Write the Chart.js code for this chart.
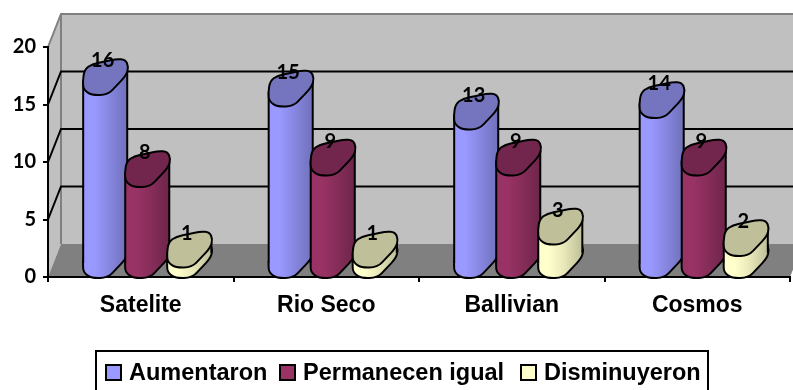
<!DOCTYPE html>
<html lang="es">
<head>
    <meta charset="UTF-8">
    <title>Satelite, Rio Seco, Ballivian, Cosmos</title>
    <style>
        html, body { margin: 0; padding: 0; background: #fff; overflow: hidden; }
        canvas { display: block; }
    </style>
</head>
<body>
    <canvas id="chart" width="793" height="390"></canvas>

    <script src="https://cdn.jsdelivr.net/npm/chart.js"></script>
    <script>
        const categories = ['Satelite', 'Rio Seco', 'Ballivian', 'Cosmos'];
        const aumentaron = [16, 15, 13, 14];
        const permanecen = [8, 9, 9, 9];
        const disminuyeron = [1, 1, 3, 2];
        const seriesNames = ['Aumentaron', 'Permanecen igual', 'Disminuyeron'];
        const yTicks = [0, 5, 10, 15, 20];

        // body gradient stops and lid colour per series
        const seriesColors = [
            { fill: '#9999ff', mid: '#8686e0', dark: '#7070ba', lid: '#7575bf' },
            { fill: '#993366', mid: '#862d59', dark: '#6e254a', lid: '#73264d' },
            { fill: '#ffffcc', mid: '#e6e6b8', dark: '#bfbf99', lid: '#bfbf99' }
        ];

        // depth of the fake 3D box
        const DEPTH_X = 13;
        const DEPTH_Y = 33;
        const LID_H = 34;

        // legend marker positions along the bottom strip
        const legendX = [106, 280, 521];

        // cylinder cross section, unit square, drawn tilted
        const lidOutline = [
            [-.01, .62], [.03, .28], [.2, .12], [.5, .04], [.75, -.03], [.96, -.01], [1.03, .2],
            [.98, .45], [.76, .75], [.56, 1.02], [.2, 1.04], [.01, .88]
        ];

        function tracePath(ctx, left, top, w) {
            const pts = lidOutline.map(p => [left + p[0] * w, top + p[1] * LID_H]);
            const n = pts.length;
            ctx.beginPath();
            ctx.moveTo((pts[n - 1][0] + pts[0][0]) / 2, (pts[n - 1][1] + pts[0][1]) / 2);
            for (let i = 0; i < n; i++) {
                const next = pts[(i + 1) % n];
                ctx.quadraticCurveTo(pts[i][0], pts[i][1], (pts[i][0] + next[0]) / 2, (pts[i][1] + next[1]) / 2);
            }
            ctx.closePath();
        }

        function drawCylinder(ctx, bar, colors) {
            const w = bar.width + 2;
            const left = bar.x + 6.5 - w / 2;
            const topY = bar.y + 1 - LID_H;
            const baseY = bar.base + 1 - LID_H;

            const grad = ctx.createLinearGradient(left, 0, left + w, 0);
            grad.addColorStop(0, colors.fill);
            grad.addColorStop(.25, colors.fill);
            grad.addColorStop(.6, colors.mid);
            grad.addColorStop(1, colors.dark);

            ctx.lineWidth = 2;
            ctx.lineJoin = 'round';
            ctx.strokeStyle = '#000';

            tracePath(ctx, left, baseY, w);
            ctx.fillStyle = grad;
            ctx.fill();
            ctx.stroke();

            ctx.beginPath();
            ctx.moveTo(left, topY + .6 * LID_H);
            ctx.lineTo(left + w, topY + .3 * LID_H);
            ctx.lineTo(left + w, baseY + .3 * LID_H);
            ctx.lineTo(left, baseY + .6 * LID_H);
            ctx.closePath();
            ctx.fill();

            ctx.beginPath();
            ctx.moveTo(left, topY + .6 * LID_H);
            ctx.lineTo(left, baseY + .6 * LID_H);
            ctx.moveTo(left + w, topY + .3 * LID_H);
            ctx.lineTo(left + w, baseY + .3 * LID_H);
            ctx.stroke();

            tracePath(ctx, left, topY, w);
            ctx.fillStyle = colors.lid;
            ctx.fill();
            ctx.stroke();
        }

        const boxPlugin = {
            id: 'box3d',
            // walls, floor and grid go under the axes
            beforeDraw(chart) {
                const { ctx, chartArea: a, scales: { y } } = chart;
                ctx.save();
                ctx.fillStyle = '#c0c0c0';
                ctx.strokeStyle = '#808080';
                ctx.lineWidth = 2;
                ctx.beginPath();
                ctx.moveTo(a.left, a.top);
                ctx.lineTo(a.left + DEPTH_X, a.top - DEPTH_Y);
                ctx.lineTo(a.right + DEPTH_X, a.top - DEPTH_Y);
                ctx.lineTo(a.right + DEPTH_X, a.bottom - DEPTH_Y);
                ctx.lineTo(a.left + DEPTH_X, a.bottom - DEPTH_Y);
                ctx.lineTo(a.left, a.bottom);
                ctx.closePath();
                ctx.fill();

                ctx.beginPath();
                ctx.moveTo(a.left, a.top);
                ctx.lineTo(a.left + DEPTH_X, a.top - DEPTH_Y);
                ctx.lineTo(a.right + DEPTH_X, a.top - DEPTH_Y);
                ctx.moveTo(a.left + DEPTH_X, a.top - DEPTH_Y);
                ctx.lineTo(a.left + DEPTH_X, a.bottom - DEPTH_Y);
                ctx.stroke();

                ctx.fillStyle = '#808080';
                ctx.beginPath();
                ctx.moveTo(a.left, a.bottom);
                ctx.lineTo(a.left + DEPTH_X, a.bottom - DEPTH_Y);
                ctx.lineTo(a.right + DEPTH_X, a.bottom - DEPTH_Y);
                ctx.lineTo(a.right, a.bottom);
                ctx.closePath();
                ctx.fill();

                ctx.strokeStyle = '#000';
                ctx.beginPath();
                yTicks.slice(1, -1).forEach(v => {
                    const py = y.getPixelForValue(v);
                    ctx.moveTo(a.left, py);
                    ctx.lineTo(a.left + DEPTH_X, py - DEPTH_Y);
                    ctx.lineTo(a.right + DEPTH_X, py - DEPTH_Y);
                });
                ctx.stroke();
                ctx.restore();
            },
            // cylinders left to right so each one overlaps the previous
            beforeDatasetsDraw(chart) {
                const { ctx, data } = chart;
                ctx.save();
                categories.forEach((_, i) => {
                    data.datasets.forEach((ds, d) => {
                        const bar = chart.getDatasetMeta(d).data[i];
                        drawCylinder(ctx, bar, seriesColors[d]);
                    });
                });

                ctx.fillStyle = '#000';
                ctx.font = 'bold 20px Lato';
                ctx.textAlign = 'center';
                ctx.textBaseline = 'middle';
                data.datasets.forEach((ds, d) => {
                    chart.getDatasetMeta(d).data.forEach((bar, i) => {
                        ctx.fillText(ds.data[i], bar.x + 4, bar.y - DEPTH_Y + 1);
                    });
                });

                ctx.restore();
                return false;
            },
            afterDraw(chart) {
                const { ctx } = chart;
                ctx.save();
                ctx.strokeStyle = '#000';
                ctx.lineWidth = 2;
                ctx.strokeRect(96, 351, 612, 44);

                ctx.font = 'bold 23.5px "Liberation Sans"';
                ctx.textBaseline = 'middle';
                ctx.textAlign = 'left';
                seriesNames.forEach((name, i) => {
                    const x = legendX[i];
                    ctx.fillStyle = seriesColors[i].fill;
                    ctx.fillRect(x, 365, 15, 15);
                    ctx.strokeRect(x, 365, 15, 15);
                    ctx.fillStyle = '#000';
                    ctx.fillText(name, x + 23, 374);
                });
                ctx.restore();
            }
        };

        new Chart(document.getElementById('chart'), {
            type: 'bar',
            data: {
                labels: categories,
                datasets: [aumentaron, permanecen, disminuyeron].map((values, i) => ({
                    label: seriesNames[i],
                    data: values,
                    backgroundColor: seriesColors[i].fill,
                    categoryPercentage: .68,
                    barPercentage: 1
                }))
            },
            options: {
                responsive: false,
                animation: false,
                layout: { padding: { top: 47, right: 3, left: 0, bottom: 0 } },
                plugins: { legend: { display: false }, tooltip: { enabled: false } },
                scales: {
                    x: {
                        afterFit: s => { s.height = 113; },
                        border: { color: '#000', width: 2 },
                        grid: { drawOnChartArea: false, color: '#000', lineWidth: 2, tickLength: 5 },
                        ticks: { color: '#000', padding: 10, maxRotation: 0, font: { family: '"Liberation Sans"', size: 23, weight: 'bold' } }
                    },
                    y: {
                        min: 0,
                        max: 20,
                        afterFit: s => { s.width = 48; },
                        afterBuildTicks: s => { s.ticks = yTicks.map(value => ({ value })); },
                        border: { color: '#000', width: 2 },
                        grid: { drawOnChartArea: false, color: '#000', lineWidth: 2, tickLength: 5 },
                        ticks: { color: '#000', padding: 7, font: { family: 'Lato', size: 20, weight: 'bold' } }
                    }
                }
            },
            plugins: [boxPlugin]
        });
    </script>
</body>
</html>
